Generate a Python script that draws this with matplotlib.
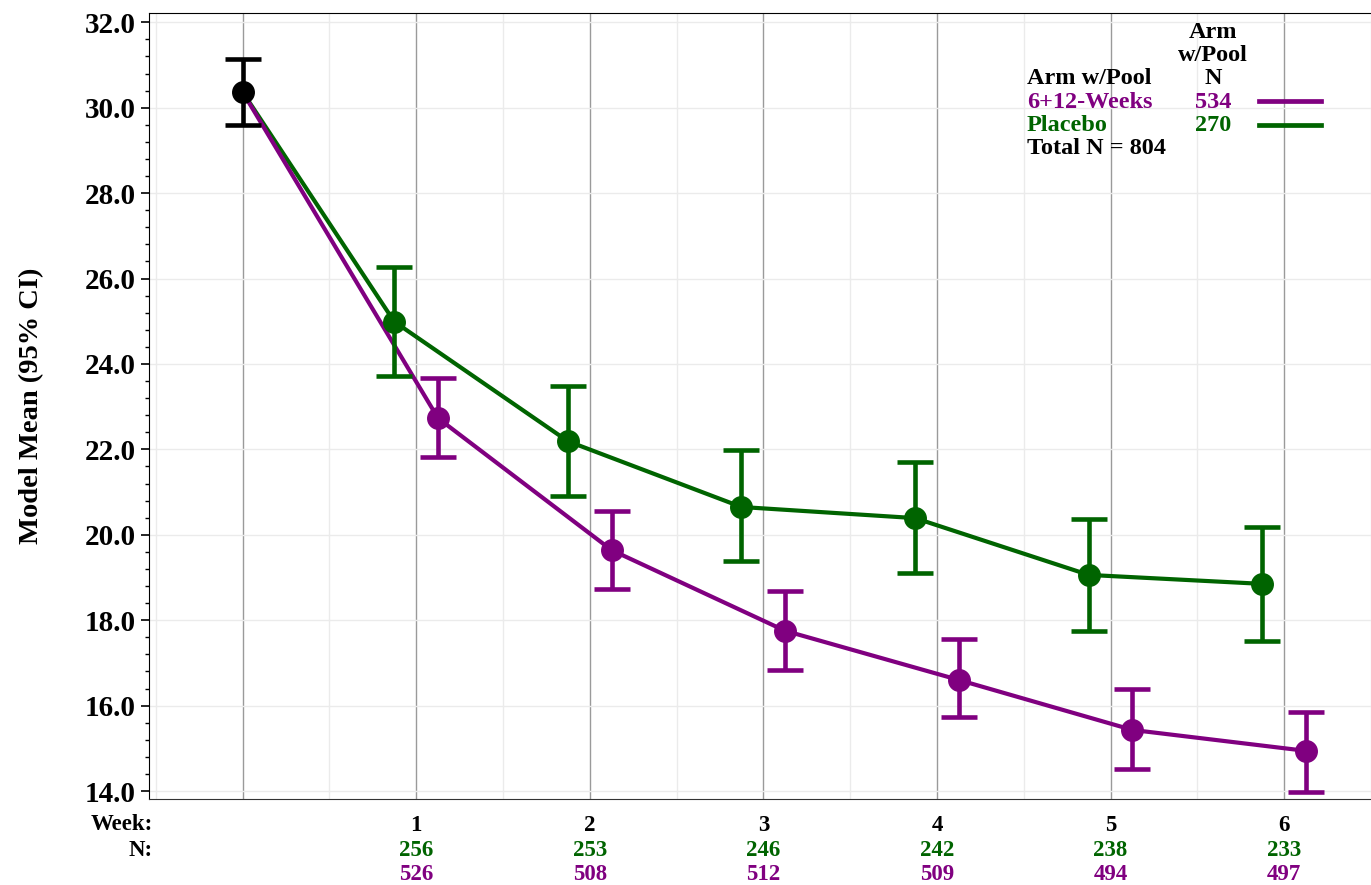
import numpy as np
import matplotlib
matplotlib.use('Agg')
import matplotlib.pyplot as plt
from matplotlib.lines import Line2D
from matplotlib.ticker import MultipleLocator, FormatStrFormatter

plt.rcParams['font.family'] = ['Liberation Serif', 'DejaVu Serif']
plt.rcParams['font.weight'] = 'bold'
plt.rcParams['axes.labelweight'] = 'bold'

# data
weeks = [1, 2, 3, 4, 5, 6]
base_mean, base_lo, base_hi = 30.37, 29.60, 31.14

placebo_mean = [24.99, 22.19, 20.65, 20.39, 19.06, 18.85]
placebo_lo = [23.72, 20.91, 19.38, 19.10, 17.75, 17.51]
placebo_hi = [26.28, 23.48, 21.98, 21.71, 20.37, 20.18]
placebo_n = [256, 253, 246, 242, 238, 233]

active_mean = [22.73, 19.64, 17.75, 16.60, 15.43, 14.94]
active_lo = [21.81, 18.73, 16.83, 15.73, 14.52, 13.97]
active_hi = [23.66, 20.56, 18.68, 17.56, 16.39, 15.85]
active_n = [526, 508, 512, 509, 494, 497]

arm_labels = ['6+12-Weeks', 'Placebo']
arm_n = [534, 270]
total_n = 804

purple = '#800080'
green = '#006400'
W, H = 1371, 885
B = 'bold'

fig = plt.figure(figsize=(W / 100, H / 100), dpi=100)
ax = fig.add_axes([149.3 / W, 1 - 799.3 / H, 1 - 149.3 / W, (799.3 - 13.3) / H])

off = 0.126


def draw_arm(mean, lo, hi, color, shift):
    x = np.array(weeks) + shift
    mean = np.array(mean)
    ax.plot(np.r_[0, x], np.r_[base_mean, mean], color=color, lw=3, zorder=3)
    ax.errorbar(x, mean, yerr=[mean - np.array(lo), np.array(hi) - mean],
                fmt='o', color=color, ms=15.5, elinewidth=3.3, capsize=13,
                capthick=3.3, zorder=4)


draw_arm(placebo_mean, placebo_lo, placebo_hi, green, -off)
draw_arm(active_mean, active_lo, active_hi, purple, off)
ax.errorbar([0], [base_mean], yerr=[[base_mean - base_lo], [base_hi - base_mean]],
            fmt='o', color='black', ms=15.5, elinewidth=3.3, capsize=13,
            capthick=3.3, zorder=5)

ax.set_xlim(-0.537, 6.448)
ax.set_ylim(13.806, 32.21)

# grid
ax.set_xticks(range(0, 7))
ax.set_xticks(np.arange(-0.5, 6.6, 1), minor=True)
ax.grid(axis='x', which='major', color='#9a9a9a', lw=1)
ax.grid(axis='x', which='minor', color='#ebebeb', lw=1)
ax.yaxis.set_major_locator(MultipleLocator(2))
ax.yaxis.set_minor_locator(MultipleLocator(0.4))
ax.yaxis.set_major_formatter(FormatStrFormatter('%.1f'))
ax.grid(axis='y', which='major', color='#ebebeb', lw=1)
ax.set_axisbelow(True)

ax.tick_params(axis='x', which='both', length=0, labelbottom=False)
ax.tick_params(axis='y', which='major', length=6, width=1.2, labelsize=21, pad=4)
ax.tick_params(axis='y', which='minor', length=3, width=1)
for t in ax.get_yticklabels():
    t.set_fontweight(B)
ax.spines['right'].set_visible(False)
ax.spines['bottom'].set_color('#333333')

ax.set_ylabel('Model Mean (95% CI)', fontsize=20.5, fontweight=B)
ax.yaxis.set_label_coords(-0.086, 0.5)

# week / N rows under the axis
fs = 16.5
fig.text(153 / W, 1 - 825 / H, 'Week:', ha='right', va='center', fontsize=fs, fontweight=B)
fig.text(153 / W, 1 - 850 / H, 'N:', ha='right', va='center', fontsize=fs, fontweight=B)
for w, ng, na in zip(weeks, placebo_n, active_n):
    for txt, dy, col in [(str(w), -26, 'black'), (str(ng), -51, green), (str(na), -75, purple)]:
        ax.annotate(txt, xy=(w, 0), xycoords=('data', 'axes fraction'),
                    xytext=(0, dy), textcoords='offset pixels',
                    ha='center', va='center', fontsize=fs, color=col, fontweight=B)

# legend block
fs = 17.5
fig.text(1213 / W, 1 - 32.7 / H, 'Arm', ha='center', va='center', fontsize=fs, fontweight=B)
fig.text(1213 / W, 1 - 55.7 / H, 'w/Pool', ha='center', va='center', fontsize=fs, fontweight=B)
fig.text(1213 / W, 1 - 79 / H, 'N', ha='center', va='center', fontsize=fs, fontweight=B)
fig.text(1027 / W, 1 - 79 / H, 'Arm w/Pool', ha='left', va='center', fontsize=fs, fontweight=B)
for i, (lab, n, col) in enumerate(zip(arm_labels, arm_n, [purple, green])):
    y = 1 - (102.5 + 23 * i) / H
    fig.text(1027 / W, y, lab, ha='left', va='center', fontsize=fs, color=col, fontweight=B)
    fig.text(1213 / W, y, str(n), ha='center', va='center', fontsize=fs, color=col, fontweight=B)
    ly = 1 - (101.3 + 23.7 * i) / H
    fig.add_artist(Line2D([1259 / W, 1321 / W], [ly, ly], color=col, lw=3.4,
                          transform=fig.transFigure))
fig.text(1027 / W, 1 - 148.5 / H, 'Total N = %d' % total_n, ha='left', va='center',
         fontsize=fs, fontweight=B)

fig.savefig('out.png', dpi=100)
